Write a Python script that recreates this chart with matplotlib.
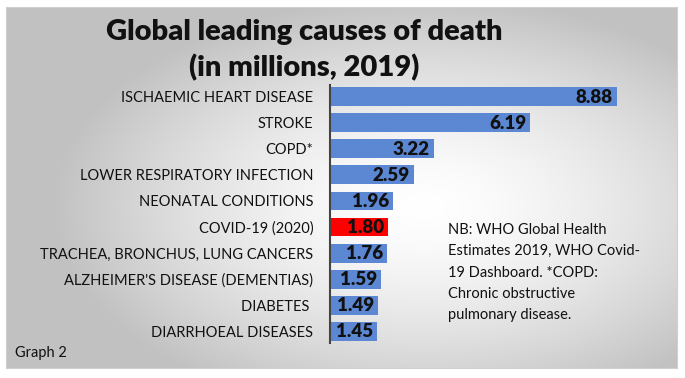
import numpy as np
import matplotlib
matplotlib.use("Agg")
import matplotlib.pyplot as plt

categories = ["ISCHAEMIC HEART DISEASE", "STROKE", "COPD*", "LOWER RESPIRATORY INFECTION",
              "NEONATAL CONDITIONS", "COVID-19 (2020)", "TRACHEA, BRONCHUS, LUNG CANCERS",
              "ALZHEIMER'S DISEASE (DEMENTIAS)", "DIABETES ", "DIARRHOEAL DISEASES"]
values = [8.88, 6.19, 3.22, 2.59, 1.96, 1.80, 1.76, 1.59, 1.49, 1.45]
value_labels = ["8.88", "6.19", "3.22", "2.59", "1.96", "1.80", "1.76", "1.59", "1.49", "1.45"]
colors = ["#FF0000" if c == "COVID-19 (2020)" else "#5B87D3" for c in categories]

plt.rcParams['font.family'] = ['Lato', 'DejaVu Sans']
W, H = 685, 378
fig = plt.figure(figsize=(W/100, H/100), dpi=100)

# background gradient panel
bg = fig.add_axes([6/W, 1-368/H, 671/W, 361/H])
yy, xx = np.mgrid[0:200, 0:400]
cx, cy = 0.62*400, 0.55*200
r = np.sqrt(((xx-cx)/400)**2 + ((yy-cy)/200)**2*0.9)
val = 1 - np.clip(r/0.55, 0, 1)**1.5 * 0.24
img = np.dstack([val, val, val])
bg.imshow(img, aspect='auto', extent=[0, 1, 0, 1], interpolation='bilinear')
bg.set_xticks([]); bg.set_yticks([])
for s in bg.spines.values():
    s.set_color('#d0d0d0')

ax = fig.add_axes([330/W, 1-343/H, 340/W, (343-85)/H])
ax.patch.set_alpha(0)
y = np.arange(len(categories))
ax.barh(y, values, height=0.73, color=colors)
ax.set_ylim(len(categories)-1+0.46, -0.46)
ax.set_xlim(0, 340/32.3)
ax.set_yticks(y)
ax.set_yticklabels(categories, fontsize=10.5, color='#111111')
ax.tick_params(axis='y', length=0, pad=12)
ax.set_xticks([])
for s in ['top', 'right', 'bottom']:
    ax.spines[s].set_visible(False)
ax.spines['left'].set_color('#444444')
ax.spines['left'].set_linewidth(1.5)
for yi, v, lab in zip(y, values, value_labels):
    ax.text(v - 0.12, yi + 0.03, lab, ha='right', va='center', fontsize=13.5,
            fontweight='heavy', color='#111111')

fig.text(304/W, 1-32/H, "Global leading causes of death", ha='center', va='center',
         fontsize=21, fontweight='heavy', color='#111111')
fig.text(304/W, 1-68/H, "(in millions, 2019)", ha='center', va='center',
         fontsize=21, fontweight='heavy', color='#111111')

note = ["NB: WHO Global Health", "Estimates 2019, WHO Covid-",
        "19 Dashboard. *COPD:", "Chronic obstructive", "pulmonary disease."]
for i, line in enumerate(note):
    fig.text(448/W, 1-(230+21.3*i)/H, line, ha='left', va='center', fontsize=10.5,
             color='#111111')
fig.text(15/W, 1-353/H, "Graph 2", ha='left', va='center', fontsize=10.5, color='#111111')

fig.savefig("out.png", dpi=100)
